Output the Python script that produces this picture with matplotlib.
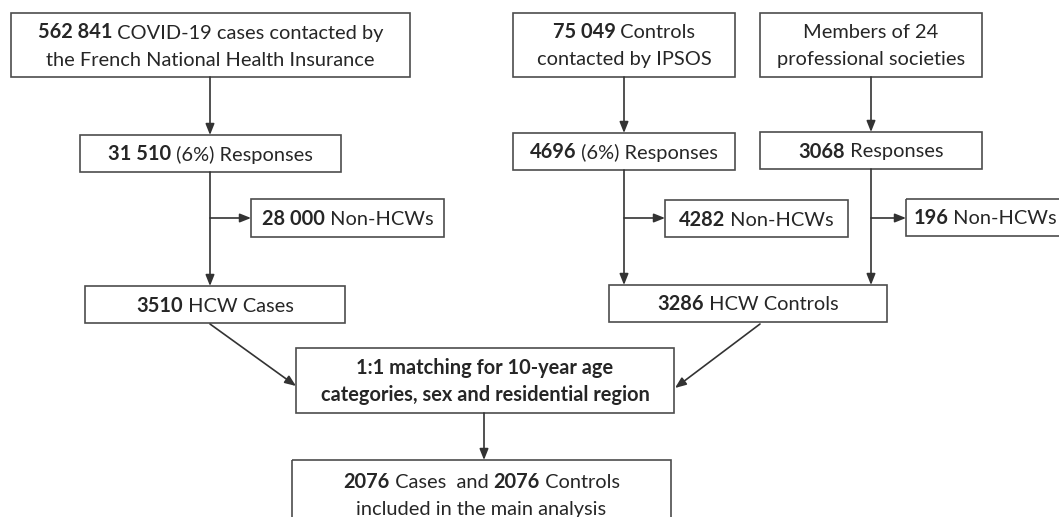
import matplotlib.pyplot as plt
from matplotlib.patches import Rectangle

plt.rcParams['font.family'] = ['Lato', 'DejaVu Sans']

# --- Box contents: each line is a list of (text, bold) pieces
txt_cases_contacted = [[("562 841", True), (" COVID-19 cases contacted by", False)],
                       [("the French National Health Insurance", False)]]
txt_cases_resp = [[("31 510", True), (" (6%) Responses", False)]]
txt_cases_nonhcw = [[("28 000", True), (" Non-HCWs", False)]]
txt_cases_hcw = [[("3510", True), (" HCW Cases", False)]]

txt_ctrl_contacted = [[("75 049", True), (" Controls", False)],
                      [("contacted by IPSOS", False)]]
txt_ctrl_resp = [[("4696", True), (" (6%) Responses", False)]]
txt_ctrl_nonhcw = [[("4282", True), (" Non-HCWs", False)]]

txt_soc_members = [[("Members of 24", False)],
                   [("professional societies", False)]]
txt_soc_resp = [[("3068", True), (" Responses", False)]]
txt_soc_nonhcw = [[("196", True), (" Non-HCWs", False)]]

txt_ctrl_hcw = [[("3286", True), (" HCW Controls", False)]]
txt_matching = [[("1:1 matching for 10-year age", True)],
                [("categories, sex and residential region", True)]]
txt_final = [[("2076", True), (" Cases  and ", False), ("2076", True), (" Controls", False)],
             [("included in the main analysis", False)]]

# --- Layout in pixels (x0, y0, x1, y1), y downward
boxes = {
    "cases_contacted": (11, 13, 410, 77, txt_cases_contacted),
    "cases_resp": (80, 135, 341, 172, txt_cases_resp),
    "cases_nonhcw": (251, 199, 444, 237, txt_cases_nonhcw),
    "cases_hcw": (85, 286, 345, 323, txt_cases_hcw),
    "ctrl_contacted": (513, 13, 735, 77, txt_ctrl_contacted),
    "ctrl_resp": (513, 133, 735, 170, txt_ctrl_resp),
    "ctrl_nonhcw": (665, 200, 848, 237, txt_ctrl_nonhcw),
    "soc_members": (760, 13, 982, 77, txt_soc_members),
    "soc_resp": (760, 132, 982, 169, txt_soc_resp),
    "soc_nonhcw": (906, 199, 1064, 236, txt_soc_nonhcw),
    "ctrl_hcw": (609, 285, 887, 322, txt_ctrl_hcw),
    "matching": (296, 348, 674, 413, txt_matching),
    "final": (292, 460, 671, 540, txt_final),
}

W, H = 1059, 517
fig = plt.figure(figsize=(W / 100, H / 100), dpi=100)
ax = fig.add_axes([0, 0, 1, 1])
ax.set_xlim(0, W)
ax.set_ylim(H, 0)
ax.axis('off')

renderer = fig.canvas.get_renderer()
TEXT_COL = '#262626'
EDGE_COL = '#4d4d4d'
LINE_COL = '#333333'
FS = 14.4
LINE_GAP = 27


def draw_line(pieces, xc, y):
    objs = []
    for s, bold in pieces:
        t = ax.text(0, y, s, fontsize=FS, color=TEXT_COL, va='baseline', ha='left',
                    fontweight='bold' if bold else 'normal')
        objs.append(t)
    widths = [t.get_window_extent(renderer).width for t in objs]
    x = xc - sum(widths) / 2
    for t, w in zip(objs, widths):
        t.set_x(x)
        x += w


for name, (x0, y0, x1, y1, lines) in boxes.items():
    ax.add_patch(Rectangle((x0, y0), x1 - x0, y1 - y0, fill=False,
                           edgecolor=EDGE_COL, linewidth=1.2, clip_on=False))
    yc = (y0 + y1) / 2 if name != "final" else 495
    n = len(lines)
    for i, pieces in enumerate(lines):
        yb = yc + 7 + (i - (n - 1) / 2) * LINE_GAP
        draw_line(pieces, (x0 + x1) / 2, yb)


def arrow(p0, p1):
    ax.annotate("", xy=p1, xytext=p0,
                arrowprops=dict(arrowstyle='-|>,head_length=0.55,head_width=0.22',
                                color=LINE_COL, lw=1.2, shrinkA=0, shrinkB=0,
                                mutation_scale=12))


# --- Cases column
arrow((210, 77), (210, 135))
arrow((210, 172), (210, 286))
arrow((210, 218), (251, 218))

# --- Controls column
arrow((624, 77), (624, 133))
arrow((624, 170), (624, 285))
arrow((624, 218), (665, 218))

# --- Professional societies column
arrow((871, 77), (871, 132))
arrow((871, 169), (871, 285))
arrow((871, 218), (906, 218))

# --- Matching
arrow((210, 324), (296, 386))
arrow((760, 324), (675, 388))
arrow((484, 413), (484, 460))

fig.savefig("out.png", dpi=100)
